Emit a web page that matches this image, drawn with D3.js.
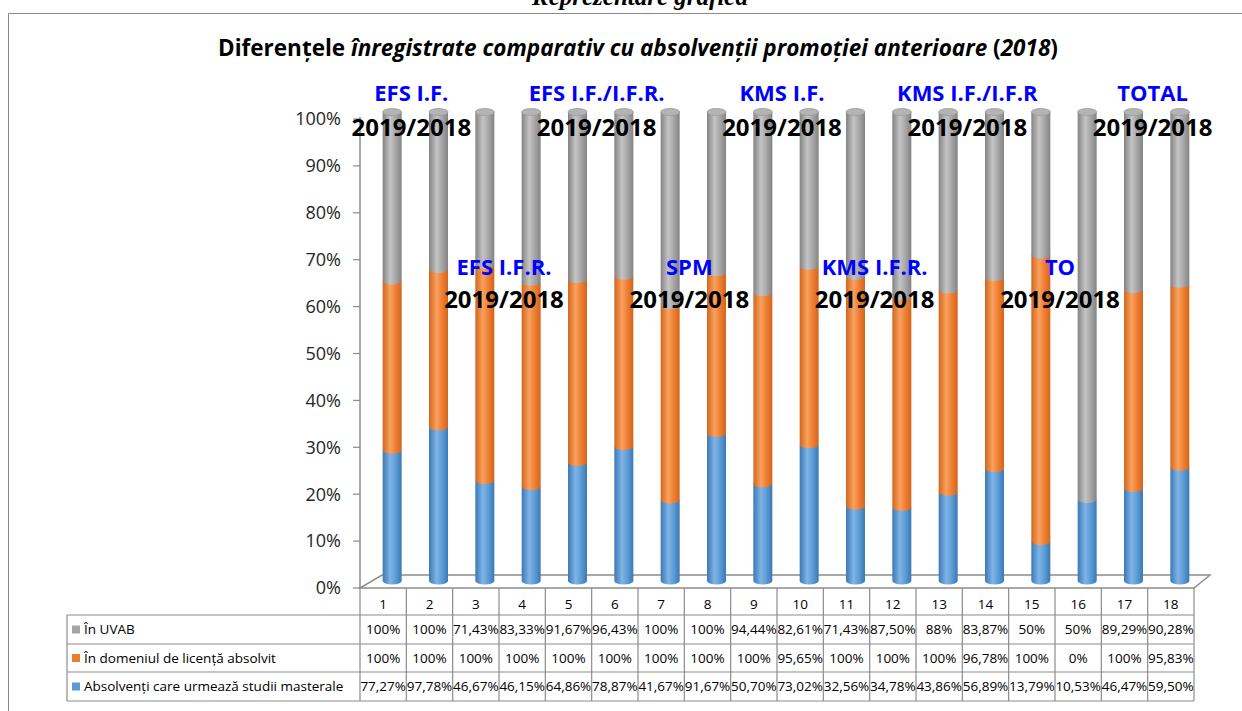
<!DOCTYPE html>
<html lang="ro">
<head>
<meta charset="UTF-8" />
<title>Diferențele înregistrate</title>
<script src="https://d3js.org/d3.v7.min.js"></script>
<style>
  body { margin: 0; background: #fff; }
  svg { display: block; }
  text { font-family: "Open Sans", "Noto Sans", sans-serif; }
</style>
</head>
<body>
<svg width="1242" height="711"></svg>
<script>
  // values
  const categories = ["1","2","3","4","5","6","7","8","9","10","11","12","13","14","15","16","17","18"];
  const inUVAB = [100,100,71.43,83.33,91.67,96.43,100,100,94.44,82.61,71.43,87.50,88,83.87,50,50,89.29,90.28];
  const inDomeniu = [100,100,100,100,100,100,100,100,100,95.65,100,100,100,96.78,100,0,100,95.83];
  const absolventi = [77.27,97.78,46.67,46.15,64.86,78.87,41.67,91.67,50.70,73.02,32.56,34.78,43.86,56.89,13.79,10.53,46.47,59.50];
  const seriesNames = ["Absolvenți care urmează studii masterale", "În domeniul de licență absolvit", "În UVAB"];
  const yTicks = [0,0.1,0.2,0.3,0.4,0.5,0.6,0.7,0.8,0.9,1];
  // group captions over pairs of bars
  const groupNames = ["EFS I.F.", "EFS I.F.R.", "EFS I.F./I.F.R.", "SPM", "KMS I.F.", "KMS I.F.R.", "KMS I.F./I.F.R", "TO", "TOTAL"];
  const groupRow = [0,1,0,1,0,1,0,1,0];
  const groupYear = "2019/2018";

  const svg = d3.select("svg");
  const colors = ["#5b9bd5", "#ed7d31", "#a5a5a5"];
  const shades = [["#3b78b5","#7fb4e6"], ["#d2661c","#f9a15e"], ["#838383","#c4c4c4"]];

  // page frame and the heading above it
  svg.append("path").attr("d", "M8.5,711 V13.5 H1242").attr("fill", "none").attr("stroke", "#8a8a8a");
  svg.append("text").attr("x", 640).attr("y", 5).attr("text-anchor", "middle")
    .style("font-family", "'Liberation Serif', 'Times New Roman', serif")
    .style("font-weight", "bold").style("font-style", "italic").style("font-size", "25px")
    .text("Reprezentare grafică");

  // title with mixed bold / bold italic
  const title = svg.append("text").attr("x", 638).attr("y", 56).attr("text-anchor", "middle")
    .style("font-weight", "bold").style("font-size", "22.5px").attr("fill", "#000");
  title.append("tspan").text("Diferențele ");
  title.append("tspan").style("font-style", "italic").text("înregistrate comparativ cu absolvenţii promoţiei anterioare");
  title.append("tspan").text(" (");
  title.append("tspan").style("font-style", "italic").text("2018");
  title.append("tspan").text(")");

  const x = d3.scaleBand().domain(categories).range([360, 1194]);
  const y = d3.scaleLinear().domain([0, 1]).range([588, 119]);
  const depthX = 9, depthY = -7;   // bars sit in the middle of the 3D floor
  const rx = 9.5, ry = 3.5;

  const defs = svg.append("defs");
  shades.forEach((s, i) => {
    const g = defs.append("linearGradient").attr("id", "cyl" + i).attr("x1", 0).attr("x2", 1).attr("y1", 0).attr("y2", 0);
    g.append("stop").attr("offset", "0%").attr("stop-color", s[0]);
    g.append("stop").attr("offset", "40%").attr("stop-color", s[1]);
    g.append("stop").attr("offset", "70%").attr("stop-color", colors[i]);
    g.append("stop").attr("offset", "100%").attr("stop-color", s[0]);
  });

  // floor
  svg.append("path")
    .attr("d", `M360,588 L1194,588 L1210,575 L382,575 Z`)
    .attr("fill", "#fff").attr("stroke", "#8c8c8c").attr("stroke-width", 1.5);

  // y axis
  const axis = svg.append("g");
  axis.append("line").attr("x1", 360).attr("x2", 360).attr("y1", y(1) - 2).attr("y2", y(0))
    .attr("stroke", "#8c8c8c").attr("stroke-width", 1.5);
  axis.selectAll(".tick").data(yTicks).join("line")
    .attr("x1", 353).attr("x2", 360).attr("y1", d => y(d)).attr("y2", d => y(d))
    .attr("stroke", "#8c8c8c").attr("stroke-width", 1.2);
  axis.selectAll(".lab").data(yTicks).join("text")
    .attr("x", 341).attr("y", d => y(d)).attr("dy", "0.35em").attr("text-anchor", "end")
    .style("font-size", "18px").attr("fill", "#262626")
    .text(d => d3.format(".0%")(d));

  // stacked cylinders
  const rows = categories.map((c, i) => ({ cat: c, a: absolventi[i], d: inDomeniu[i], u: inUVAB[i] }));
  const stack = d3.stack().keys(["a", "d", "u"]).offset(d3.stackOffsetExpand)(rows);
  const cx = c => x(c) + x.bandwidth() / 2 + depthX;
  const yb = v => y(v) + depthY;

  stack.forEach((layer, si) => {
    svg.append("g").selectAll("path").data(layer.filter(s => s[1] - s[0] > 0)).join("path")
      .attr("d", s => {
        const c = cx(s.data.cat), top = yb(s[1]), bot = yb(s[0]);
        return `M${c - rx},${top} L${c - rx},${bot} A${rx},${ry} 0 0 0 ${c + rx},${bot} L${c + rx},${top} Z`;
      })
      .attr("fill", `url(#cyl${si})`);
  });
  // top caps
  svg.append("g").selectAll("ellipse").data(rows).join("ellipse")
    .attr("cx", d => cx(d.cat)).attr("cy", yb(1)).attr("rx", rx).attr("ry", ry)
    .attr("fill", "#b4b4b4").attr("stroke", "#9a9a9a").attr("stroke-width", 0.8);

  // group captions
  const rowY = [[93, 128], [267, 300]];
  groupNames.forEach((name, gi) => {
    const mid = (cx(categories[gi * 2]) + cx(categories[gi * 2 + 1])) / 2 - 4;
    const r = rowY[groupRow[gi]];
    svg.append("text").attr("x", mid).attr("y", r[0]).attr("dy", "0.35em").attr("text-anchor", "middle")
      .style("font-weight", "bold").style("font-size", "22px").attr("fill", "#0000ff").text(name);
    svg.append("text").attr("x", mid).attr("y", r[1]).attr("dy", "0.35em").attr("text-anchor", "middle")
      .style("font-weight", "bold").style("font-size", "24px").attr("fill", "#000").text(groupYear);
  });

  // data table
  const fmt = v => (Number.isInteger(v) ? v : v.toFixed(2).replace(".", ",")) + "%";
  const tableRows = [
    { name: seriesNames[2], color: colors[2], vals: inUVAB },
    { name: seriesNames[1], color: colors[1], vals: inDomeniu },
    { name: seriesNames[0], color: colors[0], vals: absolventi }
  ];
  const rowTops = [615, 644, 672, 701];
  const tbl = svg.append("g");
  const lineC = "#8c8c8c";
  rowTops.forEach(t => tbl.append("line").attr("x1", 67).attr("x2", 1194).attr("y1", t).attr("y2", t)
    .attr("stroke", lineC).attr("stroke-width", 1.2));
  tbl.append("line").attr("x1", 67).attr("x2", 67).attr("y1", 615).attr("y2", 701).attr("stroke", lineC).attr("stroke-width", 1.2);
  tbl.selectAll(".vl").data(categories.concat(["end"])).join("line")
    .attr("x1", (d, i) => i < categories.length ? x(d) : x.range()[1])
    .attr("x2", (d, i) => i < categories.length ? x(d) : x.range()[1])
    .attr("y1", 588).attr("y2", 701).attr("stroke", lineC).attr("stroke-width", 1.2);
  tbl.selectAll(".hd").data(categories).join("text")
    .attr("x", d => x(d) + x.bandwidth() / 2).attr("y", 604).attr("dy", "0.35em").attr("text-anchor", "middle")
    .style("font-size", "13.5px").attr("fill", "#000").text(d => d);
  tableRows.forEach((r, ri) => {
    const cy = (rowTops[ri] + rowTops[ri + 1]) / 2;
    tbl.append("rect").attr("x", 72).attr("y", cy - 4).attr("width", 8).attr("height", 8).attr("fill", r.color);
    tbl.append("text").attr("x", 84).attr("y", cy).attr("dy", "0.35em")
      .style("font-size", "13.5px").attr("fill", "#000").text(r.name);
    tbl.selectAll(null).data(r.vals).join("text")
      .attr("x", (v, i) => x(categories[i]) + x.bandwidth() / 2).attr("y", cy).attr("dy", "0.35em")
      .attr("text-anchor", "middle").style("font-size", "13.5px").attr("fill", "#000").text(fmt);
  });
</script>
</body>
</html>
